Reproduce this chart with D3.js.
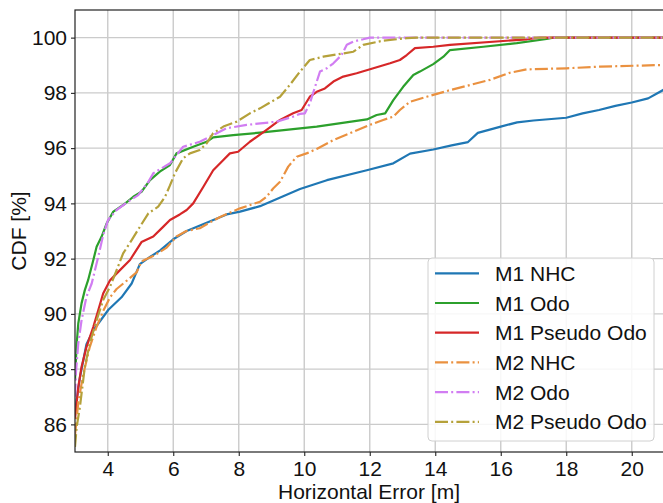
<!DOCTYPE html>
<html>
<head>
<meta charset="utf-8">
<script src="https://cdn.jsdelivr.net/npm/d3@7/dist/d3.min.js"></script>
<style>
  html, body { margin: 0; padding: 0; background: #fff; }
  svg { display: block; font-family: "Liberation Sans", Arial, sans-serif; }
</style>
</head>
<body>
<svg id="chart" width="663" height="503"></svg>
<script>
// ---- data ----
const seriesNames = ["M1 NHC", "M1 Odo", "M1 Pseudo Odo", "M2 NHC", "M2 Odo", "M2 Pseudo Odo"];
const seriesColors = ["#1f77b4", "#2ca02c", "#d62728", "#ea9140", "#d17df2", "#b5a13a"];
const seriesDashed = [false, false, false, true, true, true];

const m1Nhc = [[3.0,86.4],[3.05,86.9],[3.15,87.7],[3.35,88.9],[3.56,89.4],[4.02,90.15],[4.42,90.6],[4.73,91.1],[4.98,91.8],[5.29,92.06],[5.6,92.3],[6.0,92.7],[6.41,93.0],[7.02,93.3],[7.63,93.6],[8.04,93.7],[8.65,93.9],[9.87,94.52],[10.69,94.84],[11.91,95.2],[12.72,95.45],[13.23,95.8],[13.94,95.95],[14.5,96.1],[15.0,96.22],[15.3,96.55],[16.0,96.78],[16.5,96.93],[17.0,97.0],[18.0,97.1],[18.5,97.26],[19.0,97.38],[19.5,97.53],[20.0,97.65],[20.5,97.8],[21.0,98.13]];
const m1Odo = [[3.0,87.6],[3.05,88.9],[3.1,89.65],[3.2,90.38],[3.3,90.86],[3.4,91.22],[3.56,91.95],[3.66,92.43],[3.81,92.79],[3.97,93.28],[4.17,93.7],[4.47,93.94],[4.78,94.24],[5.03,94.42],[5.29,94.84],[5.59,95.15],[5.9,95.39],[6.1,95.81],[6.61,96.05],[7.02,96.23],[7.22,96.39],[7.83,96.47],[8.65,96.56],[10.38,96.78],[11.91,97.04],[12.21,97.2],[12.47,97.26],[12.72,97.74],[13.02,98.22],[13.33,98.65],[13.53,98.77],[13.94,99.04],[14.25,99.31],[14.45,99.55],[15.47,99.67],[16.49,99.8],[17.4,99.95],[17.6,100],[21,100]];
const m1Pseudo = [[3.0,86.2],[3.1,87.35],[3.2,88.08],[3.35,88.8],[3.56,89.53],[3.71,90.13],[3.86,90.74],[4.07,91.22],[4.32,91.52],[4.68,91.95],[5.03,92.6],[5.39,92.8],[5.69,93.15],[5.9,93.4],[6.2,93.6],[6.41,93.76],[6.61,94.0],[6.92,94.6],[7.22,95.2],[7.53,95.57],[7.73,95.81],[7.98,95.87],[8.34,96.23],[8.85,96.66],[9.26,97.02],[9.66,97.26],[9.92,97.38],[10.17,97.86],[10.38,98.04],[10.63,98.16],[10.89,98.41],[11.19,98.59],[11.6,98.71],[12.11,98.89],[12.62,99.07],[12.92,99.19],[13.13,99.37],[13.38,99.62],[13.94,99.67],[14.45,99.74],[16.8,99.94],[17.2,100],[21,100]];
const m2Nhc = [[3.0,85.6],[3.05,86.2],[3.1,86.8],[3.25,87.8],[3.45,88.8],[3.65,89.5],[3.86,90.1],[4.07,90.6],[4.27,90.9],[4.58,91.2],[4.88,91.5],[5.03,91.9],[5.4,92.1],[5.8,92.4],[6.1,92.8],[6.4,93.0],[6.81,93.1],[7.1,93.3],[7.43,93.51],[8.04,93.82],[8.65,94.06],[8.85,94.24],[9.05,94.54],[9.26,94.78],[9.51,95.33],[9.77,95.69],[10.07,95.81],[10.38,95.97],[10.89,96.29],[11.4,96.54],[12.0,96.84],[12.41,97.02],[12.72,97.14],[12.92,97.38],[13.23,97.68],[13.74,97.86],[14.45,98.1],[15.67,98.47],[16.28,98.73],[16.79,98.85],[18.01,98.89],[19.03,98.95],[21.0,99.01]];
const m2Odo = [[3.0,87.0],[3.03,87.9],[3.1,88.93],[3.2,89.77],[3.35,90.62],[3.51,91.1],[3.71,92.07],[3.86,92.85],[4.01,93.4],[4.27,93.76],[4.62,94.06],[4.93,94.3],[5.24,94.78],[5.39,95.09],[5.9,95.45],[6.3,96.05],[6.81,96.23],[7.22,96.47],[7.63,96.72],[8.24,96.84],[9.16,96.96],[9.66,97.14],[9.87,97.24],[10.02,97.26],[10.17,97.62],[10.33,98.22],[10.48,98.77],[10.69,98.89],[10.89,99.07],[11.14,99.37],[11.3,99.74],[11.5,99.86],[11.8,99.94],[12.0,100],[21,100]];
const m2Pseudo = [[3.0,85.18],[3.05,85.9],[3.15,86.63],[3.3,88.08],[3.45,88.93],[3.66,89.77],[3.86,90.5],[4.07,90.98],[4.27,91.58],[4.47,92.19],[4.73,92.67],[4.98,93.15],[5.24,93.64],[5.54,93.88],[5.75,94.24],[5.9,94.65],[6.05,95.09],[6.3,95.63],[6.51,95.81],[6.81,95.93],[7.02,96.17],[7.22,96.54],[7.53,96.78],[7.94,96.96],[8.34,97.26],[8.65,97.44],[9.26,97.86],[9.56,98.29],[9.87,98.77],[10.17,99.19],[10.58,99.31],[11.5,99.49],[11.8,99.74],[12.41,99.89],[13.13,99.98],[13.43,100],[21,100]];
const seriesData = [m1Nhc, m1Odo, m1Pseudo, m2Nhc, m2Odo, m2Pseudo];

const xTicks = [4, 6, 8, 10, 12, 14, 16, 18, 20];
const yTicks = [86, 88, 90, 92, 94, 96, 98, 100];
const xDomain = [3, 21];
const yDomain = [85, 101];
const xLabel = "Horizontal Error [m]";
const yLabel = "CDF [%]";

// ---- layout ----
const svg = d3.select("#chart");
const mLeft = 75, mRight = 664.5, mTop = 10, mBottom = 452;
const x = d3.scaleLinear().domain(xDomain).range([mLeft, mRight]);
const y = d3.scaleLinear().domain(yDomain).range([mBottom, mTop]);

svg.append("defs").append("clipPath").attr("id", "clip")
  .append("rect").attr("x", mLeft).attr("y", mTop).attr("width", mRight - mLeft).attr("height", mBottom - mTop);

// grid
const grid = svg.append("g");
grid.selectAll(".gx").data(xTicks).join("line")
  .attr("x1", d => x(d)).attr("x2", d => x(d)).attr("y1", mTop).attr("y2", mBottom)
  .attr("stroke", "#cbcbcb").attr("stroke-width", 1.4);
grid.selectAll(".gy").data(yTicks).join("line")
  .attr("x1", mLeft).attr("x2", mRight).attr("y1", d => y(d)).attr("y2", d => y(d))
  .attr("stroke", "#cbcbcb").attr("stroke-width", 1.4);

// lines
const line = d3.line().x(d => x(d[0])).y(d => y(d[1])).curve(d3.curveLinear);
const lines = svg.append("g").attr("clip-path", "url(#clip)");
seriesData.forEach((data, i) => {
  lines.append("path").datum(data)
    .attr("d", line)
    .attr("fill", "none")
    .attr("stroke", seriesColors[i])
    .attr("stroke-width", 2.2)
    .attr("stroke-linejoin", "round")
    .attr("stroke-dasharray", seriesDashed[i] ? "13,3.2,2,3.2" : null);
});

// axes
const xAxis = d3.axisBottom(x).tickValues(xTicks).tickSize(4).tickPadding(5).tickFormat(d3.format("d"));
const yAxis = d3.axisLeft(y).tickValues(yTicks).tickSize(4).tickPadding(4).tickFormat(d3.format("d"));
const gx = svg.append("g").attr("transform", `translate(0,${mBottom})`).call(xAxis);
const gy = svg.append("g").attr("transform", `translate(${mLeft},0)`).call(yAxis);
[gx, gy].forEach(g => {
  g.select(".domain").remove();
  g.selectAll(".tick line").attr("stroke", "#222").attr("stroke-width", 1.1);
  g.selectAll(".tick text").attr("fill", "#111").style("font-size", "21px")
    .style("font-family", "'Liberation Sans', Arial, sans-serif");
});

// spines
svg.append("rect").attr("x", mLeft).attr("y", mTop).attr("width", mRight - mLeft).attr("height", mBottom - mTop)
  .attr("fill", "none").attr("stroke", "#222").attr("stroke-width", 1.2);

// axis titles
svg.append("text").attr("x", (mLeft + 663) / 2).attr("y", 499)
  .attr("text-anchor", "middle").style("font-size", "21px").attr("fill", "#111").text(xLabel);
svg.append("text").attr("transform", `translate(26,${(mTop + mBottom) / 2}) rotate(-90)`)
  .attr("text-anchor", "middle").style("font-size", "21px").attr("fill", "#111").text(yLabel);

// legend
const lg = svg.append("g");
lg.append("rect").attr("x", 428).attr("y", 258).attr("width", 226).attr("height", 183)
  .attr("rx", 4).attr("fill", "#fff").attr("fill-opacity", 0.85).attr("stroke", "#d0d0d0").attr("stroke-width", 1);
seriesNames.forEach((name, i) => {
  const cy = 273.3 + i * 29.7;
  lg.append("line").attr("x1", 435).attr("x2", 479).attr("y1", cy).attr("y2", cy)
    .attr("stroke", seriesColors[i]).attr("stroke-width", 2.2)
    .attr("stroke-dasharray", seriesDashed[i] ? "13,3.2,2,3.2" : null);
  lg.append("text").attr("x", 495).attr("y", cy).attr("dy", "0.36em")
    .style("font-size", "21px").attr("fill", "#111").text(name);
});
</script>
</body>
</html>
